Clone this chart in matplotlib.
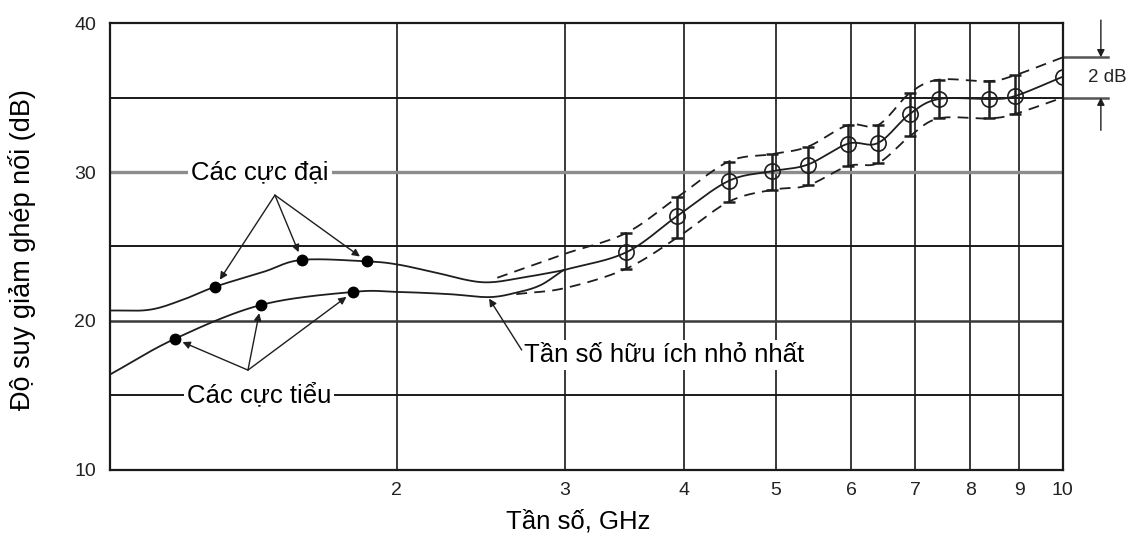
import numpy as np
import matplotlib.pyplot as plt

plt.rcParams['font.family'] = ['Liberation Sans', 'DejaVu Sans']

# Upper solid curve (maxima) up to where it joins the main curve, GHz / dB
upper_f = [1.0, 1.10, 1.19, 1.29, 1.45, 1.59, 1.86, 2.0, 2.18, 2.46, 2.73, 2.99]
upper_db = [20.7, 20.75, 21.4, 22.3, 23.3, 24.1, 24.0, 23.8, 23.3, 22.6, 22.95, 23.4]
max_dots_f = [1.29, 1.59, 1.86]
max_dots_db = [22.3, 24.1, 24.0]

# Lower solid curve (minima)
lower_f = [1.0, 1.17, 1.44, 1.80, 2.0, 2.27, 2.50, 2.67, 2.83, 2.99]
lower_db = [16.4, 18.8, 21.07, 21.95, 21.95, 21.8, 21.6, 21.9, 22.4, 23.4]
min_dots_f = [1.17, 1.44, 1.80]
min_dots_db = [18.8, 21.07, 21.95]

# Main curve with measured points
main_f = [2.99, 3.48, 3.94, 4.46, 4.95, 5.40, 5.95, 6.40, 6.91, 7.41, 8.36, 8.91, 10.0]
main_db = [23.4, 24.6, 27.05, 29.4, 30.05, 30.5, 31.9, 31.95, 33.9, 34.9, 34.9, 35.1, 36.4]

# Error bars at the measured points (low, high)
bar_f = [3.48, 3.94, 4.46, 4.95, 5.40, 5.95, 6.40, 6.91, 7.41, 8.36, 8.91]
bar_lo = [23.5, 25.6, 28.0, 28.8, 29.1, 30.4, 30.6, 32.4, 33.6, 33.6, 33.9]
bar_hi = [25.9, 28.3, 30.7, 31.2, 31.7, 33.15, 33.15, 35.3, 36.2, 36.1, 36.5]

# Tolerance envelope (dashed)
env_hi_f = [2.55, 3.0, 3.48, 3.94, 4.46, 4.95, 5.40, 5.95, 6.40, 6.91, 7.41, 8.36, 8.91, 10.0]
env_hi_db = [22.9, 24.5, 25.9, 28.3, 30.7, 31.2, 31.7, 33.15, 33.15, 35.3, 36.2, 36.1, 36.5, 37.7]
env_lo_f = [2.67, 3.0, 3.48, 3.94, 4.46, 4.95, 5.40, 5.95, 6.40, 6.91, 7.41, 8.36, 8.91, 10.0]
env_lo_db = [21.8, 22.2, 23.5, 25.6, 28.0, 28.8, 29.1, 30.4, 30.6, 32.4, 33.6, 33.6, 33.9, 35.0]

x_ticks = [2, 3, 4, 5, 6, 7, 8, 9, 10]
y_ticks = [10, 20, 30, 40]
y_grid = [15, 20, 25, 30, 35]


def smooth(xs, ys, n=24):
    # Catmull-Rom through the points, in log-frequency space
    pts = np.column_stack([np.log10(xs), ys])
    pts = np.vstack([2 * pts[0] - pts[1], pts, 2 * pts[-1] - pts[-2]])
    t = np.linspace(0, 1, n, endpoint=False)[:, None]
    segs = []
    for i in range(1, len(pts) - 2):
        p0, p1, p2, p3 = pts[i - 1:i + 3]
        segs.append(0.5 * (2 * p1 + (-p0 + p2) * t
                           + (2 * p0 - 5 * p1 + 4 * p2 - p3) * t ** 2
                           + (-p0 + 3 * p1 - 3 * p2 + p3) * t ** 3))
    segs.append(pts[-2][None])
    out = np.vstack(segs)
    return 10 ** out[:, 0], out[:, 1]


ink = '#1e1e1e'
fig = plt.figure(figsize=(11.33, 5.37), dpi=100)
ax = fig.add_axes([0.097, 0.125, 0.841, 0.832])
ax.set_xscale('log')
ax.set_xlim(1, 10)
ax.set_ylim(10, 40)

# grid
for x in x_ticks[:-1]:
    ax.axvline(x, color='#2a2a2a', lw=1.3, zorder=1)
for y in y_grid:
    if y == 30:
        ax.axhline(y, color='#8c8c8c', lw=2.4, zorder=1)
    elif y == 20:
        ax.axhline(y, color='#3a3a3a', lw=1.8, zorder=1)
    else:
        ax.axhline(y, color='#1a1a1a', lw=1.4, zorder=1)
for s in ax.spines.values():
    s.set_color('#1a1a1a')
    s.set_linewidth(1.6)

ax.set_xticks(x_ticks)
ax.set_xticklabels([str(v) for v in x_ticks])
ax.set_xticks([], minor=True)
ax.set_yticks(y_ticks)
ax.tick_params(length=0, labelsize=14, colors='#222222')
ax.tick_params(axis='x', pad=9)
ax.tick_params(axis='y', pad=10)
fig.text(578 / 1133, 1 - 522 / 537, 'Tần số, GHz', fontsize=18.5, ha='center', va='center')
fig.text(22 / 1133, 1 - 250 / 537, 'Độ suy giảm ghép nối (dB)', fontsize=19.5,
         rotation=90, ha='center', va='center')

# curves
ax.plot(*smooth(upper_f, upper_db), color=ink, lw=1.3, zorder=3)
ax.plot(*smooth(lower_f, lower_db), color=ink, lw=1.3, zorder=3)
ax.plot(*smooth(main_f, main_db), color=ink, lw=1.3, zorder=3)
ax.plot(*smooth(env_hi_f, env_hi_db), color=ink, lw=1.3, ls=(0, (6, 4)), zorder=3)
ax.plot(*smooth(env_lo_f, env_lo_db), color=ink, lw=1.3, ls=(0, (6, 4)), zorder=3)

ax.plot(max_dots_f, max_dots_db, 'o', color='black', ms=7.5, zorder=4)
ax.plot(min_dots_f, min_dots_db, 'o', color='black', ms=7.5, zorder=4)

ax.vlines(bar_f, bar_lo, bar_hi, color=ink, lw=1.8, zorder=4)
for f, lo, hi in zip(bar_f, bar_lo, bar_hi):
    ax.plot([f, f], [lo, hi], ls='none', marker='_', ms=9, mew=1.8, color=ink, zorder=4)
ax.plot(main_f[1:], main_db[1:], 'o', mfc='none', mec=ink, ms=11, mew=1.2, zorder=5)

# annotations
box = dict(facecolor='white', edgecolor='none', pad=2)
arrow = dict(arrowstyle='-|>', color=ink, lw=1.0, mutation_scale=11, shrinkA=0, shrinkB=6)
ax.text(1.437, 30, 'Các cực đại', fontsize=18.5, ha='center', va='center', bbox=box, zorder=6)
for f, d in zip(max_dots_f, max_dots_db):
    ax.annotate('', xy=(f, d), xytext=(1.49, 28.45), arrowprops=arrow, zorder=6)
ax.text(1.434, 15.05, 'Các cực tiểu', fontsize=18.5, ha='center', va='center', bbox=box, zorder=6)
for f, d in zip(min_dots_f, min_dots_db):
    ax.annotate('', xy=(f, d), xytext=(1.396, 16.7), arrowprops=arrow, zorder=6)
ax.text(2.72, 17.7, 'Tần số hữu ích nhỏ nhất', fontsize=18.5, ha='left', va='center',
        bbox=box, zorder=6)
ax.annotate('', xy=(2.50, 21.5), xytext=(2.705, 18.05),
            arrowprops=dict(arrowstyle='-|>', color=ink, lw=1.0, mutation_scale=11,
                            shrinkA=0, shrinkB=0), zorder=6)

# 2 dB bracket at the right edge
tr = ax.get_yaxis_transform()
band_lo, band_hi = env_lo_db[-1], env_hi_db[-1]
for y in (band_lo, band_hi):
    ax.plot([1.0, 1.047], [y, y], color='#555555', lw=1.8, transform=tr, clip_on=False)
bracket = dict(arrowstyle='-|>', color=ink, lw=1.0, mutation_scale=11, shrinkA=0, shrinkB=0)
ax.annotate('', xy=(1.040, band_hi), xycoords=tr, xytext=(1.040, 40.2), textcoords=tr,
            arrowprops=bracket)
ax.annotate('', xy=(1.040, band_lo), xycoords=tr, xytext=(1.040, 32.8), textcoords=tr,
            arrowprops=bracket)
ax.text(1.026, (band_lo + band_hi) / 2, '2 dB', transform=tr, fontsize=13.5,
        ha='left', va='center', color='#222222')

fig.savefig('out.png', dpi=100)
